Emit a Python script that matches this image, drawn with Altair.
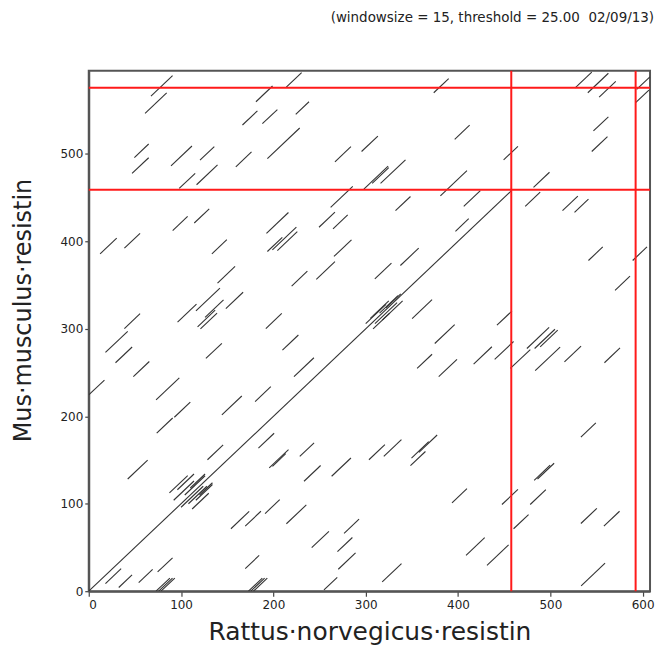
import altair as alt
import pandas as pd

# Dot-plot match segments: start x (Rattus), start y (Mus), diagonal length
seg_x = [
    0,
    67.4, 61, 181.1, 214, 166.5, 188.1, 224.2, 49.4, 46.9, 89.1, 120.5, 159.3, 193.5,
    266.7, 98, 116.8, 262, 90.9, 114.3, 12.3, 38.6, 133.4,
    192.5, 193.5, 198.9, 204.3,
    249.4, 264.6, 265.6, 139.5, 219.8, 246.5,
    96.2, 116.1, 117.9, 121, 126, 148.5,
    38.6, 191.8,
    373.7, 526.9, 540.6, 552.9, 593.5, 592.4, 546.7, 544.9, 396.4, 295.5, 449.4,
    298, 307, 316.1, 380.9, 481.8, 332.3, 406.2, 472.8, 513.2, 526.2, 397.2,
    337.6, 309.9, 541.3, 589.2, 570.1,
    300, 305, 310, 315, 318, 322, 308,
    350.3, 442.2,
    0, 18.1, 29, 48.3, 72.9, 73.6, 92.7, 126.9, 209.8, 222.3, 144.2, 180.2,
    42.2, 128.6, 183.8, 195.5, 199, 228.6, 233.2, 263.1,
    87.4, 92, 96, 100, 104, 108, 112, 110, 116, 120,
    154, 169.5, 191, 214.1, 241.5, 269.4, 276.6, 270.3, 169.5,
    18.1, 32.5, 54.1, 74.6, 72.9, 75.7, 78.2, 173, 175.5, 178.4, 254.8,
    374.8, 355.7, 379.1, 416.9, 439.7, 456.7, 474.6, 483, 489, 483.6, 515.3, 558.6,
    533.1, 303.5, 319.6, 349.6, 357.6, 348.5, 482.5, 486.1, 393.5, 447.6, 478.2,
    460.2, 533.1, 558, 408.7, 431.4, 317.9, 533.4,
]
seg_y = [
    0,
    566.1, 546.3, 559.6, 576.3, 533, 534.5, 545.2, 495.8, 477.6, 486.3, 492.8, 485.2, 494.6,
    490.9, 460.5, 464.7, 438.9, 412.3, 421, 385.7, 392.2, 385.7,
    409.2, 388.4, 390.3, 389.5,
    416.1, 414.3, 382.7, 352.3, 348.9, 356.5,
    307.7, 320.4, 302.3, 300, 313, 323.1,
    300.3, 300.3,
    569.9, 575.5, 569.9, 564.9, 573.7, 558.5, 526.2, 502.7, 516.7, 502.7, 493.2,
    459.8, 466.2, 466.2, 452.1, 461.7, 435.1, 440, 440, 435.1, 433.2, 411.5,
    372.4, 357.2, 378.1, 378.1, 344,
    306, 312, 306, 318, 310, 324, 300,
    311.7, 304.1,
    224.4, 273, 261.2, 245.3, 218.7, 180.7, 198.9, 266.1, 275.6, 245.3, 201.6, 216.8,
    128.3, 150.3, 163.6, 140.9, 142.8, 154.1, 125.7, 131.4,
    112.4, 104, 116, 96, 110, 100, 94, 118, 104, 110,
    71.4, 74.4, 88.8, 77.1, 49.7, 45.2, 66.1, 25.1, 25.8,
    8.7, 4.2, 9.9, 22, 0, 0, 0, 0, 0, 0, 1.5,
    283.2, 254.7, 245.3, 259.7, 265, 254.7, 277.5, 277.5, 279.4, 252.1, 262.3, 261.2,
    176.2, 150.3, 154.1, 152.2, 158.8, 143.5, 126.8, 128.3, 101, 99.1, 99.1,
    71.4, 77.4, 74.4, 41, 29.6, 10.6, 6.1,
]
seg_len = [
    458,
    23.4, 23.4, 18, 16.6, 16.2, 16.2, 14.4, 15.5, 18, 22.7, 15.5, 17, 35,
    17.3, 17.3, 22.7, 24, 16.2, 16.2, 18, 17, 16.2,
    23.8, 16.2, 26, 21.6,
    17.3, 15.9, 19, 19, 17, 20.2,
    20.5, 26, 19, 18, 20, 18.7,
    17, 17.3,
    16.2, 18, 22.3, 18, 14.4, 14.4, 16.2, 17, 16.2, 17.7, 15.5,
    26.3, 18, 27, 28.8, 17.3, 16.2, 18, 16.2, 16.6, 15.1, 14.4,
    19.8, 18, 15.5, 15.5, 16.2,
    22, 20, 24, 20, 22, 16, 18,
    21.6, 16.2,
    17, 24.1, 18, 17.3, 25.2, 17.3, 17.3, 17.3, 17.3, 21.6, 21.6, 17,
    21.6, 17, 17, 20.9, 14.4, 15.5, 18, 20.9,
    19.8, 22, 18, 24, 22, 20, 18, 16, 18, 14,
    19.8, 17, 15.9, 21.6, 18.7, 16.2, 16.2, 18.7, 15.1,
    17, 14.4, 15.1, 16.2, 15, 15, 15, 15, 15, 15, 14.4,
    21.6, 16.2, 19.8, 19.8, 20.5, 21.6, 24.1, 22, 19, 27, 18, 16.9,
    16.2, 17.3, 19.1, 18.7, 19.8, 16.2, 17.3, 18, 16.2, 17.3, 17,
    16.2, 17.3, 17, 20.2, 23.4, 20.9, 25.9,
]

# Red boundary lines
red_x = [457.7, 592.4]
red_y = [459.0, 575.6]

x_ticks = [0, 100, 200, 300, 400, 500, 600]
y_ticks = [0, 100, 200, 300, 400, 500]
x_max = 608
y_max = 595

segs = pd.DataFrame({"x": seg_x, "y": seg_y, "len": seg_len})
segs["x2"] = segs["x"] + segs["len"]
segs["y2"] = segs["y"] + segs["len"]

xs = alt.Scale(domain=[0, x_max], nice=False, zero=False)
ys = alt.Scale(domain=[0, y_max], nice=False, zero=False)

FONT = "DejaVu Sans"

x_axis = alt.Axis(
    values=x_ticks, title="Rattus·norvegicus·resistin", grid=False,
    labelFont=FONT, labelFontSize=12, labelColor="#222", labelPadding=3,
    tickColor="#444", tickSize=5, tickWidth=1.2,
    domainColor="#555", domainWidth=2,
    titleFont=FONT, titleFontSize=25, titleFontWeight="normal", titleColor="#222",
    titlePadding=9,
)
y_axis = alt.Axis(
    values=y_ticks, title="Mus·musculus·resistin", grid=False,
    labelFont=FONT, labelFontSize=12, labelColor="#222", labelPadding=2,
    tickColor="#444", tickSize=4, tickWidth=1.2,
    domainColor="#555", domainWidth=2,
    titleFont=FONT, titleFontSize=24, titleFontWeight="normal", titleColor="#222",
    titleX=-65, titleY=240, titleAngle=-90, titleBaseline="middle", titleAlign="center",
)

lines = alt.Chart(segs).mark_rule(color="#333", strokeWidth=1.1, clip=True).encode(
    x=alt.X("x:Q", scale=xs, axis=x_axis),
    y=alt.Y("y:Q", scale=ys, axis=y_axis),
    x2="x2:Q",
    y2="y2:Q",
)

vlines = alt.Chart(pd.DataFrame({"rx": red_x})).mark_rule(color="#ff1a1a", strokeWidth=2).encode(
    x=alt.X("rx:Q", scale=xs)
)
hlines = alt.Chart(pd.DataFrame({"ry": red_y})).mark_rule(color="#ff1a1a", strokeWidth=2).encode(
    y=alt.Y("ry:Q", scale=ys)
)

chart = alt.layer(lines, vlines, hlines).properties(
    width=563,
    height=522,
    autosize=alt.AutoSizeParams(type="none"),
    padding={"left": 81, "top": 62, "right": 8, "bottom": 58},
    title=alt.TitleParams(
        "(windowsize = 15, threshold = 25.00\u00a0\u00a002/09/13)",
        anchor="end", font=FONT, fontSize=13.5, fontWeight="normal", color="#222",
        offset=45,
    ),
).configure_view(stroke="#555", strokeWidth=2)

chart.save("out.html", embed_options={"renderer": "svg", "actions": False})
